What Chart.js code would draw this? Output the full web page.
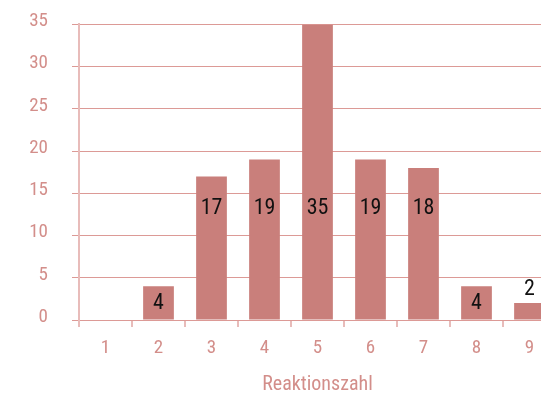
<!DOCTYPE html>
<html>
<head>
<meta charset="utf-8">
<script src="https://cdn.jsdelivr.net/npm/chart.js@4/dist/chart.umd.min.js"></script>
<style>
  html, body { margin: 0; padding: 0; background: #fff; overflow: hidden; }
  #wrap { width: 541px; height: 395px; overflow: hidden; }
  /* the y tick padding pushes the plot top down, so shift the canvas up */
  #chart { display: block; margin-top: -11px; }
</style>
</head>
<body>
<div id="wrap"><canvas id="chart" width="560" height="406"></canvas></div>
<script>
// Reaktionszahl histogram
const categories = ['1', '2', '3', '4', '5', '6', '7', '8', '9'];
const counts = [0, 4, 17, 19, 35, 19, 18, 4, 2];
const yTicks = [0, 5, 10, 15, 20, 25, 30, 35];
const xTitle = 'Reaktionszahl';

const FONT = "'Roboto Condensed', 'Liberation Sans', sans-serif";
const barColor = '#c97f7b';
const gridColor = '#dc9a96';
const axisColor = '#e8bcba';
const labelColor = '#d38e8a';

// value labels: tall bars get the label at a fixed height, short bars
// at their middle, tiny ones above the bar
const valueLabels = {
    id: 'valueLabels',
    afterDatasetsDraw(chart) {
        const ctx = chart.ctx;
        const yScale = chart.scales.y;
        const meta = chart.getDatasetMeta(0);
        ctx.save();
        ctx.font = '22px ' + FONT;
        ctx.fillStyle = '#111';
        ctx.textAlign = 'center';
        ctx.textBaseline = 'middle';
        meta.data.forEach((bar, i) => {
            const v = counts[i];
            if (!v) return;
            let y;
            if (v < 3) {
                y = bar.y - 14;
            } else if (v > 10) {
                y = yScale.getPixelForValue(13.2);
            } else {
                y = yScale.getPixelForValue(v / 2);
            }
            ctx.fillText(String(v), bar.x, y);
        });
        ctx.restore();
    }
};

const ctx = document.getElementById('chart').getContext('2d');
new Chart(ctx, {
    type: 'bar',
    data: {
        labels: categories,
        datasets: [{
            data: counts,
            backgroundColor: barColor,
            borderWidth: 0,
            categoryPercentage: 1,
            barPercentage: 0.58
        }]
    },
    options: {
        responsive: false,
        animation: false,
        layout: { padding: { top: 0, left: 0, right: 4, bottom: 0 } },
        plugins: {
            legend: { display: false },
            tooltip: { enabled: false }
        },
        scales: {
            x: {
                afterFit: s => { s.height = 75; },
                grid: {
                    offset: true,
                    drawOnChartArea: false,
                    drawTicks: true,
                    tickLength: 7,
                    color: axisColor,
                    lineWidth: 2
                },
                border: { display: false },
                ticks: {
                    color: labelColor,
                    padding: 10,
                    font: { family: FONT, size: 19 }
                },
                title: {
                    display: true,
                    text: xTitle,
                    color: labelColor,
                    padding: { top: 0, bottom: -2 },
                    font: { family: FONT, size: 20 }
                }
            },
            y: {
                min: 0,
                max: 35,
                afterFit: s => { s.width = 79; },
                afterBuildTicks: s => { s.ticks = yTicks.map(v => ({ value: v })); },
                grid: {
                    color: gridColor,
                    lineWidth: 1,
                    drawTicks: true,
                    tickLength: 7
                },
                border: { display: true, color: axisColor, width: 2 },
                ticks: {
                    color: labelColor,
                    padding: 24,
                    labelOffset: -3,
                    font: { family: FONT, size: 19 }
                }
            }
        }
    },
    plugins: [valueLabels]
});
</script>
</body>
</html>
